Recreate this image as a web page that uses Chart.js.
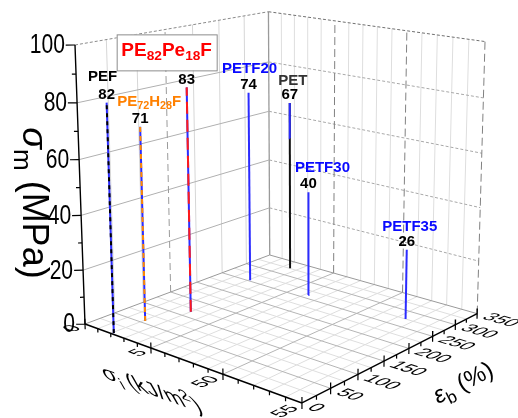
<!DOCTYPE html>
<html>
<head>
<meta charset="utf-8">
<script src="https://cdn.jsdelivr.net/npm/chart.js@4.4.0/dist/chart.umd.min.js"></script>
<style>
  html, body { margin: 0; padding: 0; background: #fff; }
  #wrap { width: 518px; height: 418px; }
</style>
</head>
<body>
<div id="wrap"><canvas id="chart" width="518" height="418"></canvas></div>
<script>
// values
const samples   = ['PEF', 'PE_{72}H_{28}F', 'PE_{82}Pe_{18}F', 'PETF20', 'PET', 'PETF30', 'PETF35'];
const impact    = [2.1, 2.1, 3.0, 2.1, 2.5, 6.2, 52.5];     // sigma_i (kJ/m2)
const elongation = [3, 56, 116, 253, 326, 261, 275];        // eps_b (%)
const tensile   = [82, 71, 83, 74, 67, 40, 26];             // sigma_m (MPa)
const petBlueFrom = 53;                                     // PET stem turns blue above this

const tensileTicks = [0, 20, 40, 60, 80, 100];
const impactTicks  = [0, 5, 50, 55];
const elongTicks   = [0, 50, 100, 150, 200, 250, 300, 350];

// broken impact axis: 0..7.5 and 47.5..55 share the depth
function uOf(si) { return si <= 7.5 ? si / 15 : (si - 40) / 15; }
const vOf = eb => eb / 350;
const wOf = sm => sm / 100;

// perspective view of the unit box
const N0 = [85, 324], NU = [178.6, 27.8], NV = [226, -30], NW = [-13.3, -281];
const DU = -0.127, DV = 0.153, DW = -0.044;
function proj(u, v, w) {
    const d = 1 + DU * u + DV * v + DW * w;
    return { x: (N0[0] + NU[0] * u + NV[0] * v + NW[0] * w) / d,
             y: (N0[1] + NU[1] * u + NV[1] * v + NW[1] * w) / d };
}
const pt = (si, eb, sm) => proj(uOf(si), vOf(eb), wOf(sm));

const BLUE = '#2b2bff';
const datasets = [];
function addLines(segs, style) {
    const data = [];
    segs.forEach(s => { data.push(s[0], s[1], { x: null, y: null }); });
    datasets.push(Object.assign({ data: data, showLine: true, pointRadius: 0, borderWidth: 1, order: 5 }, style));
}

// grid positions on the impact axis (1 unit steps inside both segments)
const impactGrid = [];
for (let i = 0; i <= 7; i++) impactGrid.push(i);
for (let i = 48; i <= 55; i++) impactGrid.push(i);

// floor
let minor = [], major = [];
for (let eb = 25; eb < 350; eb += 25) {
    (eb % 50 ? minor : major).push([pt(0, eb, 0), pt(55, eb, 0)]);
}
impactGrid.filter(s => s > 0 && s < 55).forEach(s => {
    (s === 5 || s === 50 ? major : minor).push([pt(s, 0, 0), pt(s, 350, 0)]);
});
addLines(minor, { borderColor: '#dedede', order: 9 });
addLines(major, { borderColor: '#b5b5b5', order: 8 });
addLines([[pt(0, 350, 0), pt(55, 350, 0)], [pt(0, 0, 0), pt(0, 350, 0)]], { borderColor: '#9a9a9a', order: 7 });

// left wall (impact = 0)
let lw = [], lwDash = [];
elongTicks.filter(e => e > 0 && e < 350).forEach(e => {
    (e === 150 ? lwDash : lw).push([pt(0, e, 0), pt(0, e, 100)]);
});
addLines(lw, { borderColor: '#d6d6d6', order: 8 });
addLines(lwDash, { borderColor: '#9a9a9a', borderDash: [7, 4], order: 7 });
addLines(tensileTicks.filter(t => t > 0 && t < 100).map(t => [pt(0, 0, t), pt(0, 350, t)]), { borderColor: '#b0b0b0', order: 7 });
addLines([[pt(0, 0, 100), pt(0, 350, 100)]], { borderColor: '#8a8a8a', borderDash: [3, 2], order: 7 });

// back wall (elongation = 350)
addLines(impactGrid.filter(s => s > 0 && s < 55 && s !== 5 && s !== 50).map(s => [pt(s, 350, 0), pt(s, 350, 100)]),
    { borderColor: '#dedede', order: 8 });
addLines([5, 50, 55].map(s => [pt(s, 350, 0), pt(s, 350, 100)]), { borderColor: '#808080', borderDash: [8, 4], order: 7 });
addLines(tensileTicks.filter(t => t > 0 && t < 100).map(t => [pt(0, 350, t), pt(55, 350, t)]),
    { borderColor: '#a8a8a8', borderDash: [3, 2], order: 7 });
addLines([[pt(0, 350, 100), pt(55, 350, 100)]], { borderColor: '#707070', borderDash: [3, 2], order: 7 });
addLines([[pt(0, 350, 0), pt(0, 350, 100)]], { borderColor: '#9a9a9a', borderWidth: 1.3, order: 7 });

// axes and ticks
addLines([[pt(0, 0, 0), pt(0, 0, 100)], [pt(0, 0, 0), pt(55, 0, 0)], [pt(55, 0, 0), pt(55, 350, 0)]],
    { borderColor: '#000', borderWidth: 1.4, order: 4 });
let ticks = [];
for (let t = 0; t <= 100; t += 10) {
    const k = t % 20 ? 0.01 : 0.022;
    ticks.push([proj(0, 0, wOf(t)), proj(-k, -k, wOf(t))]);
}
impactGrid.forEach(s => {
    const big = impactTicks.includes(s);
    ticks.push([proj(uOf(s), 0, big ? 0.02 : 0), proj(uOf(s), 0, big ? -0.02 : -0.014)]);
});
for (let e = 0; e <= 350; e += 25) {
    const big = e % 50 === 0;
    ticks.push([proj(1, vOf(e), big ? 0.02 : 0), proj(1, vOf(e), big ? -0.02 : -0.014)]);
}
addLines(ticks, { borderColor: '#000', borderWidth: 1.2, order: 4 });

// stems
const stemBase   = [BLUE, BLUE, BLUE, BLUE, '#111', BLUE, BLUE];
const stemDash   = ['#000', '#ff8a00', '#ff1a1a', null, null, null, null];
const stemDashPattern = [[4, 4], [5, 4], [12, 6], null, null, null, null];
samples.forEach((s, i) => {
    const seg = [[pt(impact[i], elongation[i], 0), pt(impact[i], elongation[i], tensile[i])]];
    addLines(seg, { borderColor: stemBase[i], borderWidth: 2, order: 2 });
    if (stemDash[i]) addLines(seg, { borderColor: stemDash[i], borderWidth: 2, borderDash: stemDashPattern[i], order: 1 });
});
addLines([[pt(impact[4], elongation[4], petBlueFrom), pt(impact[4], elongation[4], tensile[4])]],
    { borderColor: BLUE, borderWidth: 2, order: 1 });

// label styling
const FAM = '"Liberation Sans", Arial, sans-serif';
const nameColors = ['#000', '#ff8000', '#ff0000', '#0a0aff', '#333', '#0a0aff', '#0a0aff'];
const nameShift  = [[-4, -26], [9, -25], [-20, -35], [1, -24], [3, -22], [14, -24], [3, -23]];

function parse(str) {
    const parts = [];
    str.replace(/_\{([^}]*)\}|([^_]+)/g, (m, sub, txt) => { parts.push(sub != null ? { t: sub, sub: true } : { t: txt }); });
    return parts;
}
function drawParts(ctx, parts, size, color, bold, align) {
    let w = 0;
    const info = parts.map(p => {
        const s = (p.sub || p.sup) ? size * 0.72 : size;
        const f = (p.it ? 'italic ' : '') + (bold ? 'bold ' : '') + s + 'px ' + FAM;
        ctx.font = f;
        const mw = ctx.measureText(p.t).width;
        w += mw;
        return { f: f, mw: mw, dy: p.sub ? size * 0.32 : p.sup ? -size * 0.35 : 0 };
    });
    let x = align === 'center' ? -w / 2 : align === 'right' ? -w : 0;
    ctx.fillStyle = color;
    ctx.textAlign = 'left';
    ctx.textBaseline = 'middle';
    parts.forEach((p, i) => { ctx.font = info[i].f; ctx.fillText(p.t, x, info[i].dy); x += info[i].mw; });
    return w;
}

const labelPlugin = {
    id: 'labels3d',
    afterDatasetsDraw(chart) {
        const ctx = chart.ctx, sx = chart.scales.x, sy = chart.scales.y;
        const px = p => ({ x: sx.getPixelForValue(p.x), y: sy.getPixelForValue(p.y) });
        const dir = (a, b) => { const p = px(a), q = px(b); const l = Math.hypot(q.x - p.x, q.y - p.y); return [(q.x - p.x) / l, (q.y - p.y) / l]; };
        ctx.save();

        // sigma_m tick labels
        tensileTicks.forEach(t => {
            const p = px(proj(0, 0, wOf(t)));
            ctx.setTransform(0.78, 0, 0, 1, p.x - 10, p.y + 1);
            drawParts(ctx, [{ t: String(t) }], 27, '#000', false, 'right');
        });
        // sigma_i tick labels, lying on the floor
        impactTicks.forEach(s => {
            const u = uOf(s), p = px(proj(u, -0.035, 0));
            const b = dir(proj(u, 0, 0), proj(u, 0.1, 0)), d = dir(proj(u, 0, 0), proj(u + 0.1, 0, 0));
            ctx.setTransform(b[0], b[1], d[0], d[1], p.x, p.y);
            drawParts(ctx, [{ t: String(s) }], 19, '#000', false, 'right');
        });
        // eps_b tick labels
        elongTicks.forEach(e => {
            const v = vOf(e), p = px(proj(1.035, v, 0));
            const b = dir(proj(1, v, 0), proj(1.1, v, 0)), d = dir(proj(1, v, 0), proj(1, v - 0.1, 0));
            ctx.setTransform(b[0], b[1], d[0], d[1], p.x, p.y);
            drawParts(ctx, [{ t: String(e) }], 19, '#000', false, 'left');
        });

        // axis titles
        ctx.setTransform(0, 1, -1, 0, 33, 203);
        drawParts(ctx, [{ t: 'σ', it: true }, { t: 'm', sub: true }, { t: ' (MPa)' }], 36, '#000', false, 'center');
        let c = px(proj(0.5, -0.16, -0.05));
        let b = dir(proj(0, 0, 0), proj(1, 0, 0));
        ctx.setTransform(b[0], b[1], 0.5, 0.87, c.x, c.y);
        drawParts(ctx, [{ t: 'σ', it: true }, { t: 'i', sub: true }, { t: ' (kJ/m' }, { t: '2', sup: true }, { t: ')' }], 25, '#000', false, 'center');
        c = px(proj(1.3, 0.45, 0));
        b = dir(proj(1, 0, 0), proj(1, 1, 0));
        ctx.setTransform(b[0], b[1], -b[1], b[0], c.x, c.y);
        drawParts(ctx, [{ t: 'ε', it: true }, { t: 'b', sub: true }, { t: ' (%)' }], 24, '#000', false, 'center');

        // stem labels
        samples.forEach((s, i) => {
            const top = px(pt(impact[i], elongation[i], tensile[i]));
            ctx.setTransform(1, 0, 0, 1, top.x, top.y - 8);
            drawParts(ctx, [{ t: String(tensile[i]) }], 15, '#000', true, 'center');
            const nx = top.x + nameShift[i][0], ny = top.y + nameShift[i][1];
            if (i === 2) {
                ctx.setTransform(1, 0, 0, 1, 0, 0);
                const w = 92, h = 36;
                ctx.fillStyle = '#fff';
                ctx.fillRect(nx - w / 2 - 4, ny - h / 2, w + 8, h);
                ctx.strokeStyle = '#8c8c8c';
                ctx.lineWidth = 1;
                ctx.strokeRect(nx - w / 2 - 4 + 0.5, ny - h / 2 + 0.5, w + 8, h);
                ctx.setTransform(1, 0, 0, 1, nx, ny - 2);
                drawParts(ctx, parse(s), 19, nameColors[i], true, 'center');
            } else {
                ctx.setTransform(1, 0, 0, 1, nx, ny);
                drawParts(ctx, parse(s), 15, nameColors[i], true, 'center');
            }
        });
        ctx.restore();
    }
};

new Chart(document.getElementById('chart').getContext('2d'), {
    type: 'scatter',
    data: { datasets: datasets },
    options: {
        responsive: false,
        animation: false,
        layout: { padding: 0 },
        scales: {
            x: { type: 'linear', min: 0, max: 518, display: false },
            y: { type: 'linear', min: 0, max: 418, reverse: true, display: false }
        },
        plugins: { legend: { display: false }, tooltip: { enabled: false } }
    },
    plugins: [labelPlugin]
});
</script>
</body>
</html>
